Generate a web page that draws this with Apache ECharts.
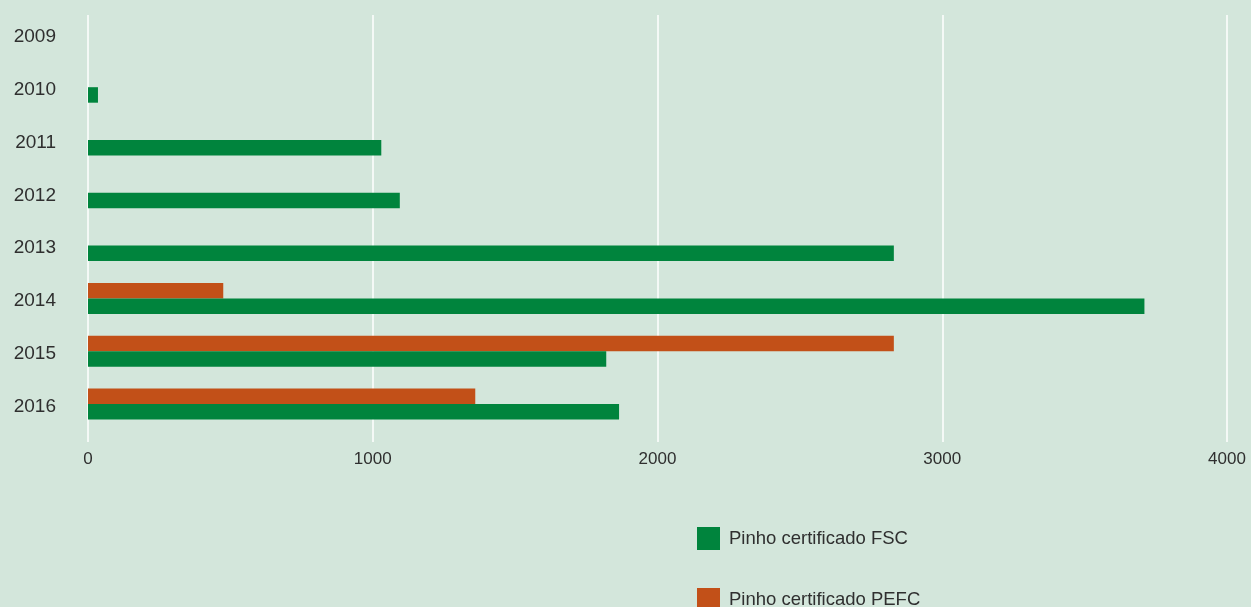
<!DOCTYPE html>
<html>
<head>
<meta charset="utf-8">
<script src="https://cdn.jsdelivr.net/npm/echarts@6/dist/echarts.min.js"></script>
<style>
  html, body { margin: 0; padding: 0; background: #d3e6db; }
  #chart { width: 1251px; height: 607px; }
</style>
</head>
<body>
<div id="chart"></div>
<script>
// Anos (categorias) e áreas de pinho certificado
const years = ['2009', '2010', '2011', '2012', '2013', '2014', '2015', '2016'];
const fsc = [null, 35, 1030, 1095, 2830, 3710, 1820, 1865];
const pefc = [null, null, null, null, null, 475, 2830, 1360];
const xTicks = [0, 1000, 2000, 3000, 4000];

const FONT = '"Liberation Sans", Arial, sans-serif';
const TEXT = '#2f2f2f';
const GREEN = '#00843d';
const ORANGE = '#c25018';
const FSC_NAME = 'Pinho certificado FSC';
const PEFC_NAME = 'Pinho certificado PEFC';

const chart = echarts.init(document.getElementById('chart'), null, { renderer: 'canvas' });

function legendAt(top, name) {
  return {
    orient: 'vertical',
    left: 697,
    top: top,
    itemWidth: 23,
    itemHeight: 23,
    icon: 'rect',
    padding: 0,
    data: [name],
    textStyle: { fontFamily: FONT, fontSize: 18.5, color: TEXT, padding: [6, 0, 0, 4] }
  };
}

chart.setOption({
  backgroundColor: '#d3e6db',
  animation: false,
  textStyle: { fontFamily: FONT },
  legend: [legendAt(527, FSC_NAME), legendAt(588, PEFC_NAME)],
  grid: [
    // bars
    { left: 88, right: 24, top: 8, bottom: 176.6, containLabel: false },
    // value axis with gridlines
    { left: 88, right: 24, top: 15, bottom: 165, containLabel: false }
  ],
  xAxis: [
    {
      gridIndex: 0, type: 'value', min: xTicks[0], max: xTicks[xTicks.length - 1], interval: 1000,
      show: false
    },
    {
      gridIndex: 1, type: 'value', min: xTicks[0], max: xTicks[xTicks.length - 1], interval: 1000,
      axisLine: { show: false },
      axisTick: { show: false },
      axisLabel: {
        fontFamily: FONT, fontSize: 17, color: TEXT, margin: 9,
        formatter: (v) => String(v)
      },
      splitLine: { show: true, lineStyle: { color: '#ffffff', width: 1.5 } }
    }
  ],
  yAxis: [
    {
      gridIndex: 0, type: 'category', data: years, inverse: true,
      axisLine: { show: false },
      axisTick: { show: false },
      axisLabel: {
        fontFamily: FONT, fontSize: 19, color: TEXT, margin: 32,
        verticalAlign: 'top', lineHeight: 5
      },
      splitLine: { show: false }
    },
    {
      gridIndex: 1, type: 'category', data: years, show: false
    }
  ],
  series: [
    {
      name: PEFC_NAME, type: 'bar', xAxisIndex: 0, yAxisIndex: 0,
      data: pefc, barWidth: 15.5, barGap: '0%',
      itemStyle: { color: ORANGE }
    },
    {
      name: FSC_NAME, type: 'bar', xAxisIndex: 0, yAxisIndex: 0,
      data: fsc, barWidth: 15.5, barGap: '0%',
      itemStyle: { color: GREEN }
    }
  ]
});
</script>
</body>
</html>
